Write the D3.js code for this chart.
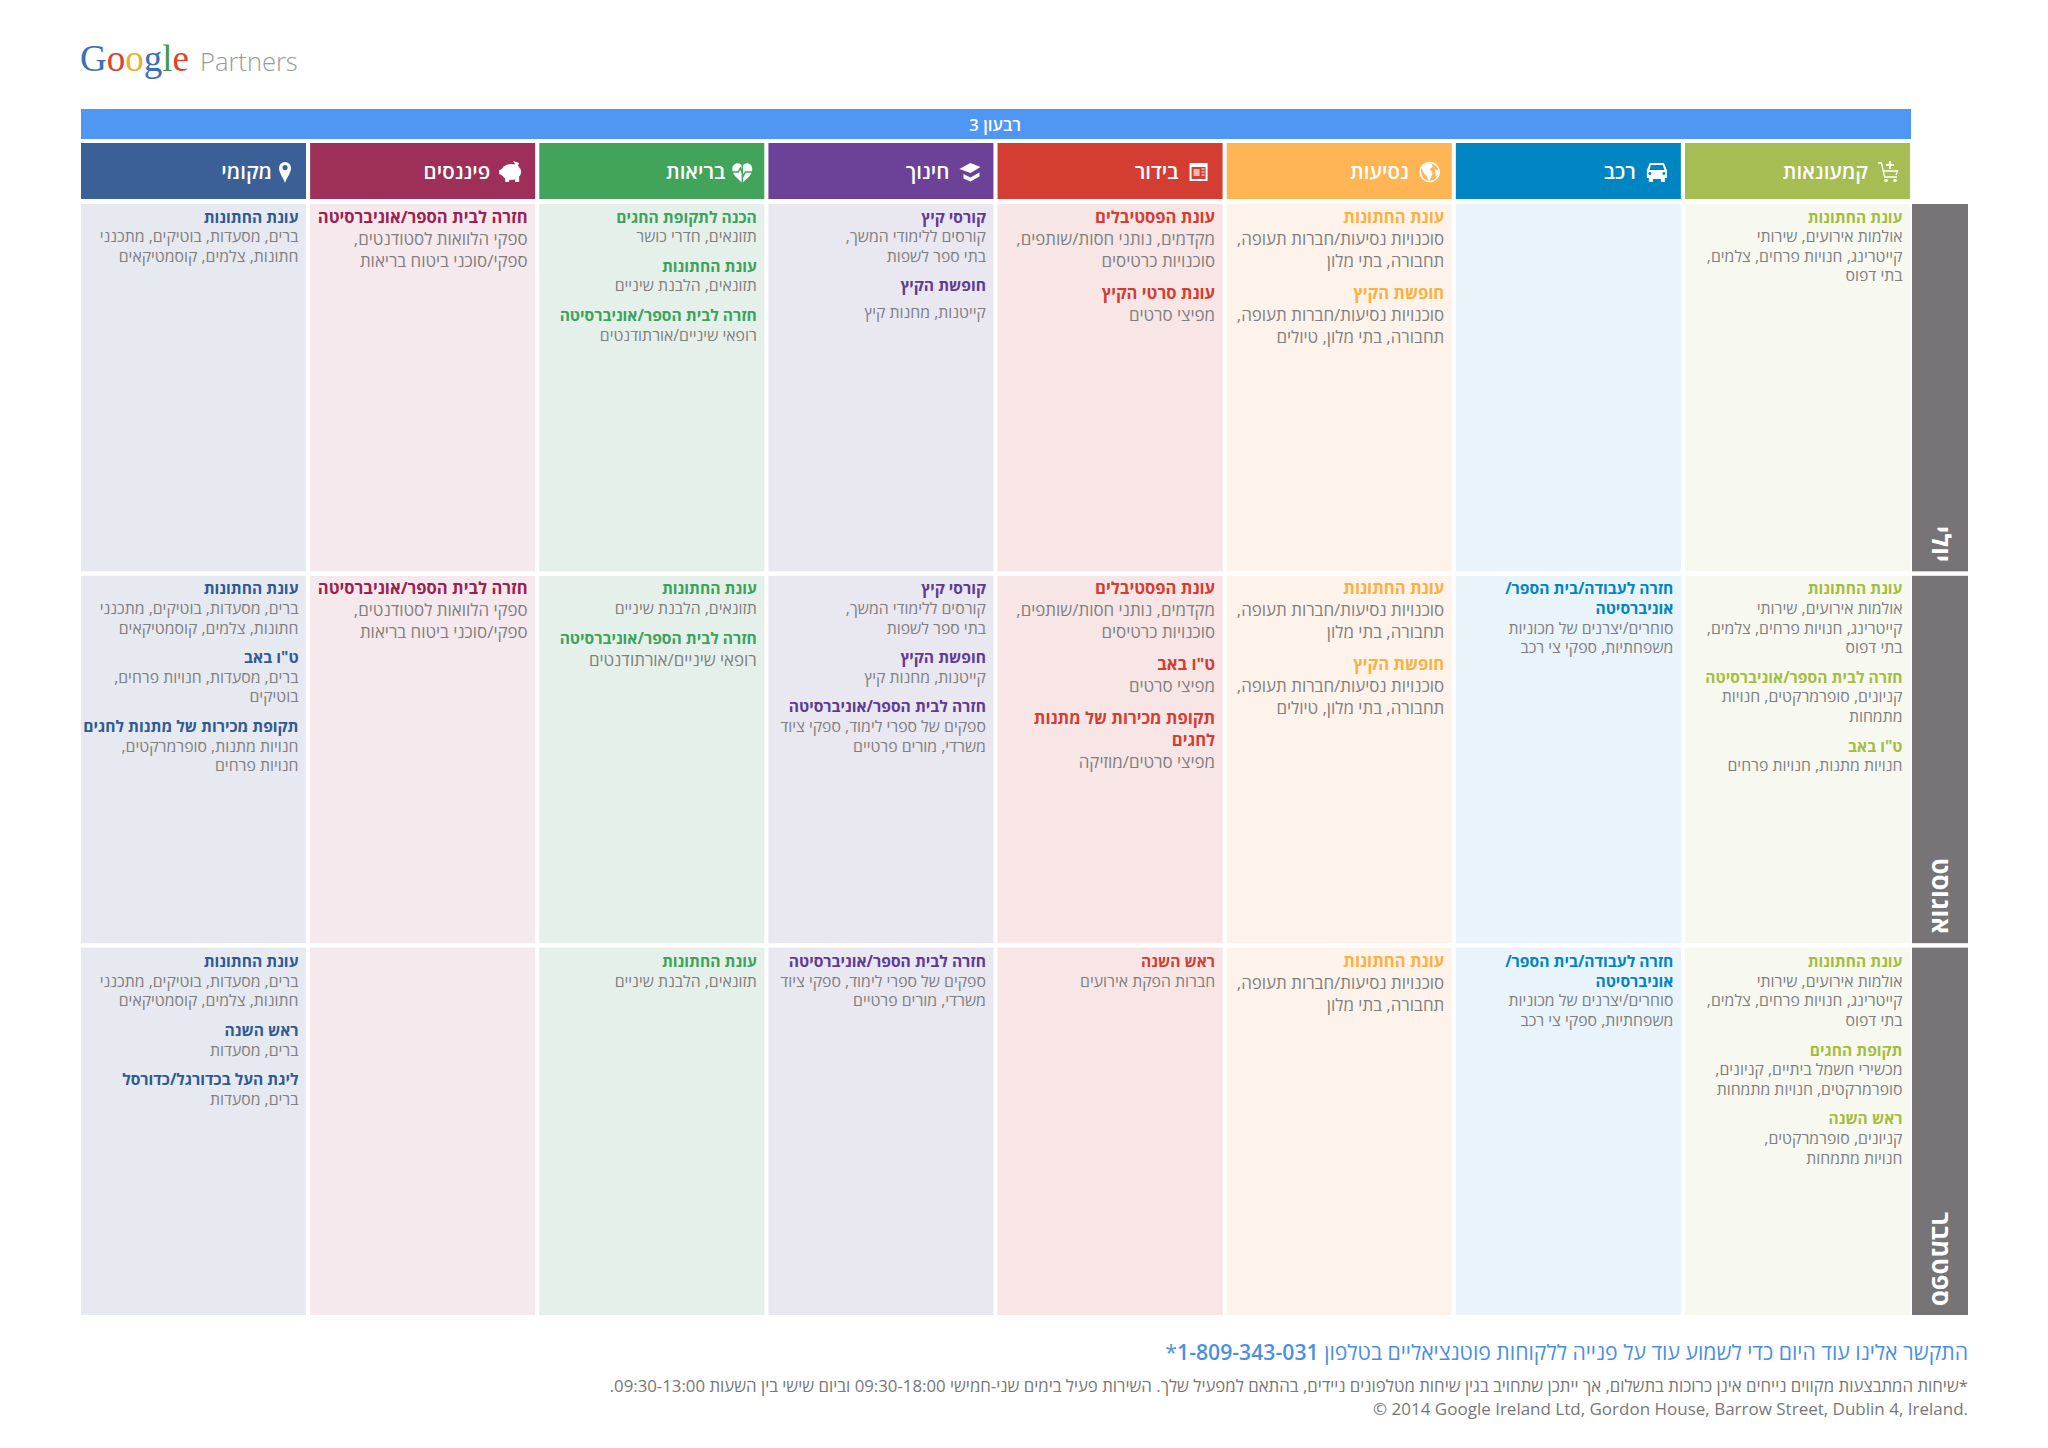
<!DOCTYPE html>
<html lang="he">
<head>
<meta charset="utf-8">
<script src="https://cdnjs.cloudflare.com/ajax/libs/d3/7.8.5/d3.min.js"></script>
<style>
  html, body { margin: 0; padding: 0; background: #fff; }
  svg { display: block; font-family: "Open Sans", "DejaVu Sans", sans-serif; }
</style>
</head>
<body>
<div id="chart"></div>
<script>
// chart content
const quarterTitle = "רבעון 3";
const months = ["יולי", "אוגוסט", "ספטמבר"];
const categories = ["קמעונאות", "רכב", "נסיעות", "בידור", "חינוך", "בריאות", "פיננסים", "מקומי"];

// each block is [heading lines, body lines], one list of blocks per month
const retailWedding = [["עונת החתונות"], ["אולמות אירועים, שירותי", "קייטרינג, חנויות פרחים, צלמים,", "בתי דפוס"]];
const retail = [
  [retailWedding],
  [retailWedding,
    [["חזרה לבית הספר/אוניברסיטה"], ["קניונים, סופרמרקטים, חנויות", "מתמחות"]],
    [["ט\"ו באב"], ["חנויות מתנות, חנויות פרחים"]]],
  [retailWedding,
    [["תקופת החגים"], ["מכשירי חשמל ביתיים, קניונים,", "סופרמרקטים, חנויות מתמחות"]],
    [["ראש השנה"], ["קניונים, סופרמרקטים,", "חנויות מתמחות"]]]
];

const carBack = [["חזרה לעבודה/בית הספר/", "אוניברסיטה"], ["סוחרים/יצרנים של מכוניות", "משפחתיות, ספקי צי רכב"]];
const car = [[], [carBack], [carBack]];

const travelWedding = [["עונת החתונות"], ["סוכנויות נסיעות/חברות תעופה,", "תחבורה, בתי מלון"]];
const travelSummer = [["חופשת הקיץ"], ["סוכנויות נסיעות/חברות תעופה,", "תחבורה, בתי מלון, טיולים"]];
const travel = [[travelWedding, travelSummer], [travelWedding, travelSummer], [travelWedding]];

const festivals = [["עונת הפסטיבלים"], ["מקדמים, נותני חסות/שותפים,", "סוכנויות כרטיסים"]];
const entertainment = [
  [festivals, [["עונת סרטי הקיץ"], ["מפיצי סרטים"]]],
  [festivals,
    [["ט\"ו באב"], ["מפיצי סרטים"]],
    [["תקופת מכירות של מתנות", "לחגים"], ["מפיצי סרטים/מוזיקה"]]],
  [[["ראש השנה"], ["חברות הפקת אירועים"]]]
];

const summerCourses = [["קורסי קיץ"], ["קורסים ללימודי המשך,", "בתי ספר לשפות"]];
const summerBreak = [["חופשת הקיץ"], ["קייטנות, מחנות קיץ"]];
const eduBack = [["חזרה לבית הספר/אוניברסיטה"], ["ספקים של ספרי לימוד, ספקי ציוד", "משרדי, מורים פרטיים"]];
const education = [[summerCourses, summerBreak], [summerCourses, summerBreak, eduBack], [eduBack]];

const healthWedding = [["עונת החתונות"], ["תזונאים, הלבנת שיניים"]];
const healthBack = [["חזרה לבית הספר/אוניברסיטה"], ["רופאי שיניים/אורתודנטים"]];
const health = [
  [[["הכנה לתקופת החגים"], ["תזונאים, חדרי כושר"]], healthWedding, healthBack],
  [healthWedding, healthBack],
  [healthWedding]
];

const financeBack = [["חזרה לבית הספר/אוניברסיטה"], ["ספקי הלוואות לסטודנטים,", "ספקי/סוכני ביטוח בריאות"]];
const finance = [[financeBack], [financeBack], []];

const localWedding = [["עונת החתונות"], ["ברים, מסעדות, בוטיקים, מתכנני", "חתונות, צלמים, קוסמטיקאים"]];
const local = [
  [localWedding],
  [localWedding,
    [["ט\"ו באב"], ["ברים, מסעדות, חנויות פרחים,", "בוטיקים"]],
    [["תקופת מכירות של מתנות לחגים"], ["חנויות מתנות, סופרמרקטים,", "חנויות פרחים"]]],
  [localWedding,
    [["ראש השנה"], ["ברים, מסעדות"]],
    [["ליגת העל בכדורגל/כדורסל"], ["ברים, מסעדות"]]]
];

const cellData = [retail, car, travel, entertainment, education, health, finance, local];

const logoLetters = ["G", "o", "o", "g", "l", "e"];
const ctaLine = "התקשר אלינו עוד היום כדי לשמוע עוד על פנייה ללקוחות פוטנציאליים בטלפון ";
const ctaPhone = "1-809-343-031";
const noteLine = "*שיחות המתבצעות מקווים נייחים אינן כרוכות בתשלום, אך ייתכן שתחויב בגין שיחות מטלפונים ניידים, בהתאם למפעיל שלך. השירות פעיל בימים שני-חמישי 09:30-18:00 וביום שישי בין השעות 09:30-13:00.";
const copyLine = "© 2014 Google Ireland Ltd, Gordon House, Barrow Street, Dublin 4, Ireland.";

// colours and layout
const headerColors = ["#a5bd52", "#0085c3", "#ffb554", "#d43d32", "#6c4298", "#42a45a", "#9d2f58", "#3a6097"];
const titleColors = ["#a5bd3f", "#0085c3", "#fbb040", "#d43d32", "#5f3a94", "#3aa35c", "#9d2150", "#2f5a94"];
const cellColors = ["#f7f9f1", "#e9f3fa", "#fef3ea", "#f8e6e6", "#e9e7f0", "#e6f0ea", "#f6e9ee", "#e7e9f0"];
const logoColors = ["#3b6fb6", "#d9432f", "#e8b32b", "#3b6fb6", "#3f9a4b", "#d9432f"];
const labelPads = [42, 45, 43, 44, 44, 39, 45, 34];
const iconPads = [22, 24, 22, 24, 23, 22, 24, 21];
const looseCells = {2: [0, 1, 2], 3: [0, 1], 6: [0, 1]};

const width = 2048, height = 1448;
const lineStep = 19.6, looseStep = 22, blockGap = 10;
const bodyFont = 15.8, titleFont = 15.6, looseBodyFont = 16.9, looseTitleFont = 16.6;

const svg = d3.select("#chart").append("svg")
  .attr("width", width)
  .attr("height", height)
  .attr("direction", "rtl");

const x = d3.scaleBand().domain(d3.range(categories.length)).range([1910, 81]).paddingInner(0.018);
const y = d3.scaleBand().domain(d3.range(months.length)).range([204, 1315]).paddingInner(0.012);

// logo
const logo = svg.append("g").attr("id", "logo");
logo.append("text")
  .attr("direction", "ltr")
  .attr("x", 80).attr("y", 71)
  .attr("font-family", "'Liberation Serif', serif")
  .attr("font-size", 37)
  .selectAll("tspan")
  .data(logoLetters)
  .enter().append("tspan")
  .attr("fill", (d, i) => logoColors[i])
  .text(d => d);
logo.append("text")
  .attr("direction", "ltr")
  .attr("x", 200).attr("y", 71)
  .attr("font-size", 25.5)
  .attr("font-weight", 300)
  .attr("fill", "#999")
  .text("Partners");

// quarter band
svg.append("rect")
  .attr("x", 81).attr("y", 109)
  .attr("width", 1830).attr("height", 30)
  .attr("fill", "#4f97f3");
svg.append("text")
  .attr("x", 995).attr("y", 131)
  .attr("text-anchor", "middle")
  .attr("font-size", 17)
  .attr("font-weight", 600)
  .attr("fill", "#fff")
  .text(quarterTitle);

// white line icons, drawn around 0,0
const iconDrawers = [
  function (g) { // cart
    g.append("path").attr("d", "M-10,-9h3.5l3,14h12.5M-5.5,-1h15l-1.5,4").attr("fill", "none").attr("stroke", "#fff").attr("stroke-width", 1.3);
    g.append("path").attr("d", "M2,-11v8M-2,-7h8").attr("stroke", "#fff").attr("stroke-width", 1.8);
    g.selectAll("circle").data([-2, 7]).enter().append("circle").attr("cx", d => d).attr("cy", 8.5).attr("r", 1.8).attr("fill", "#fff");
  },
  function (g) { // car
    g.append("path").attr("fill", "#fff").attr("fill-rule", "evenodd")
      .attr("d", "M-7,-9h14l3,7v8h-2v4h-4v-3h-8v3h-4v-4h-2v-8zM-6,-7l-1.5,5h15l-1.5,-5zM-7,0a1.5,1.5 0 1 0 .1,0zM7,0a1.5,1.5 0 1 0 .1,0z");
  },
  function (g) { // globe
    g.append("circle").attr("r", 9.5).attr("fill", "none").attr("stroke", "#fff").attr("stroke-width", 1.6);
    g.append("path").attr("fill", "#fff").attr("d", "M-3,-9l5,1l1,3l-3,2l3,4l-2,5l-2,3l-2,-5l-3,-3l-2,-5z M5,-3l3,1l1,4l-3,3z");
  },
  function (g) { // newspaper
    g.append("rect").attr("x", -9).attr("y", -9).attr("width", 18).attr("height", 18).attr("fill", "#fff");
    g.append("rect").attr("x", -7).attr("y", -5).attr("width", 14).attr("height", 12).attr("fill", "#d43d32");
    g.append("rect").attr("x", -5).attr("y", -3).attr("width", 6).attr("height", 7).attr("fill", "#f4b8b2");
    g.append("path").attr("d", "M3,-3h3M3,0h3M3,3h3").attr("stroke", "#fff").attr("stroke-width", 1);
  },
  function (g) { // graduation cap
    g.append("path").attr("fill", "#fff").attr("d", "M-11,-3l11,-6l10,4l-10,6z");
    g.append("path").attr("fill", "#fff").attr("d", "M-7,2l7,3.5l9,-5v4l-9,5l-7,-3z");
  },
  function (g) { // heart with pulse
    g.append("path").attr("fill", "#fff").attr("d", "M0,11c-5,-5 -10,-8 -10,-14c0,-6 7,-8 10,-3c3,-5 10,-3 10,3c0,6 -5,9 -10,14z");
    g.append("path").attr("d", "M-11,0h7l2,-4l3,8l2,-4h8M0,-9v20").attr("fill", "none").attr("stroke", "#42a45a").attr("stroke-width", 1.4);
  },
  function (g) { // piggy bank
    g.append("ellipse").attr("rx", 10).attr("ry", 8).attr("fill", "#fff");
    g.append("path").attr("fill", "#fff").attr("d", "M-8,-3l-4,1v4l4,2zM2,-11l6,2l-2,5zM-6,5h4v5h-4zM4,5h4v5h-4z");
  },
  function (g) { // map pin
    g.append("path").attr("fill", "#fff").attr("fill-rule", "evenodd")
      .attr("d", "M0,11c-2,-6 -6,-10 -6,-15a6,6 0 1 1 12,0c0,5 -4,9 -6,15zM0,-7a2.6,2.6 0 1 0 .1,0z");
  }
];

// category headers
const headers = svg.append("g").attr("id", "headers").selectAll("g")
  .data(categories)
  .enter().append("g")
  .attr("transform", (d, i) => `translate(${x(i)},143)`);
headers.append("rect")
  .attr("width", x.bandwidth())
  .attr("height", 56)
  .attr("fill", (d, i) => headerColors[i]);
headers.append("text")
  .attr("x", (d, i) => x.bandwidth() - labelPads[i])
  .attr("y", 36)
  .attr("font-size", 20.5)
  .attr("font-weight", 600)
  .attr("fill", "#fff")
  .text(d => d);
headers.append("g")
  .attr("transform", (d, i) => `translate(${x.bandwidth() - iconPads[i]},29)`)
  .each(function (d, i) { iconDrawers[i](d3.select(this)); });

// month labels down the right side
const rowLabels = svg.append("g").attr("id", "months").selectAll("g")
  .data(months)
  .enter().append("g");
rowLabels.append("rect")
  .attr("x", 1912).attr("y", (d, i) => y(i))
  .attr("width", 56).attr("height", y.bandwidth())
  .attr("fill", "#767476");
rowLabels.append("text")
  .attr("transform", (d, i) => `translate(1932,${y(i) + y.bandwidth() - 9}) rotate(90)`)
  .attr("font-size", 25.5)
  .attr("font-weight", 700)
  .attr("fill", "#fff")
  .text(d => d);

// cells with their text blocks
const cells = svg.append("g").attr("id", "cells");
cellData.forEach(function (rows, c) {
  rows.forEach(function (blocks, r) {
    const right = x(c) + x.bandwidth() - 7.5;
    const loose = (looseCells[c] || []).includes(r);
    const step = loose ? looseStep : lineStep;
    const cell = cells.append("g");
    cell.append("rect")
      .attr("x", x(c)).attr("y", y(r))
      .attr("width", x.bandwidth()).attr("height", y.bandwidth())
      .attr("fill", cellColors[c]);

    let cursor = y(r) + (r === 2 ? 19.5 : 18.5);
    blocks.forEach(function (block, b) {
      block[0].forEach(function (line) {
        cell.append("text")
          .attr("x", right).attr("y", cursor)
          .attr("font-size", loose ? looseTitleFont : titleFont)
          .attr("font-weight", 700)
          .attr("fill", titleColors[c])
          .text(line);
        cursor += step;
      });
      // two odd spots in the source layout
      if (c === 4 && r === 0 && b === 1) cursor += 7;
      const oddHealth = c === 5 && r === 1 && b === 1;
      if (oddHealth) cursor += 2.4;
      block[1].forEach(function (line) {
        cell.append("text")
          .attr("x", right).attr("y", cursor)
          .attr("font-size", loose || oddHealth ? looseBodyFont : bodyFont)
          .attr("fill", "#7f7f7f")
          .text(line);
        cursor += step;
      });
      cursor += blockGap;
    });
  });
});

// footer
const cta = svg.append("text")
  .attr("x", 1968).attr("y", 1360)
  .attr("font-size", 21.2)
  .attr("fill", "#4a90e2");
cta.append("tspan").text(ctaLine);
cta.append("tspan").attr("font-weight", 600).text(ctaPhone);
cta.append("tspan").text("*");

svg.append("text")
  .attr("x", 1968).attr("y", 1392)
  .attr("font-size", 16.8)
  .attr("fill", "#777")
  .text(noteLine);
svg.append("text")
  .attr("direction", "ltr")
  .attr("text-anchor", "end")
  .attr("x", 1968).attr("y", 1415)
  .attr("font-size", 17)
  .attr("fill", "#777")
  .text(copyLine);
</script>
</body>
</html>
